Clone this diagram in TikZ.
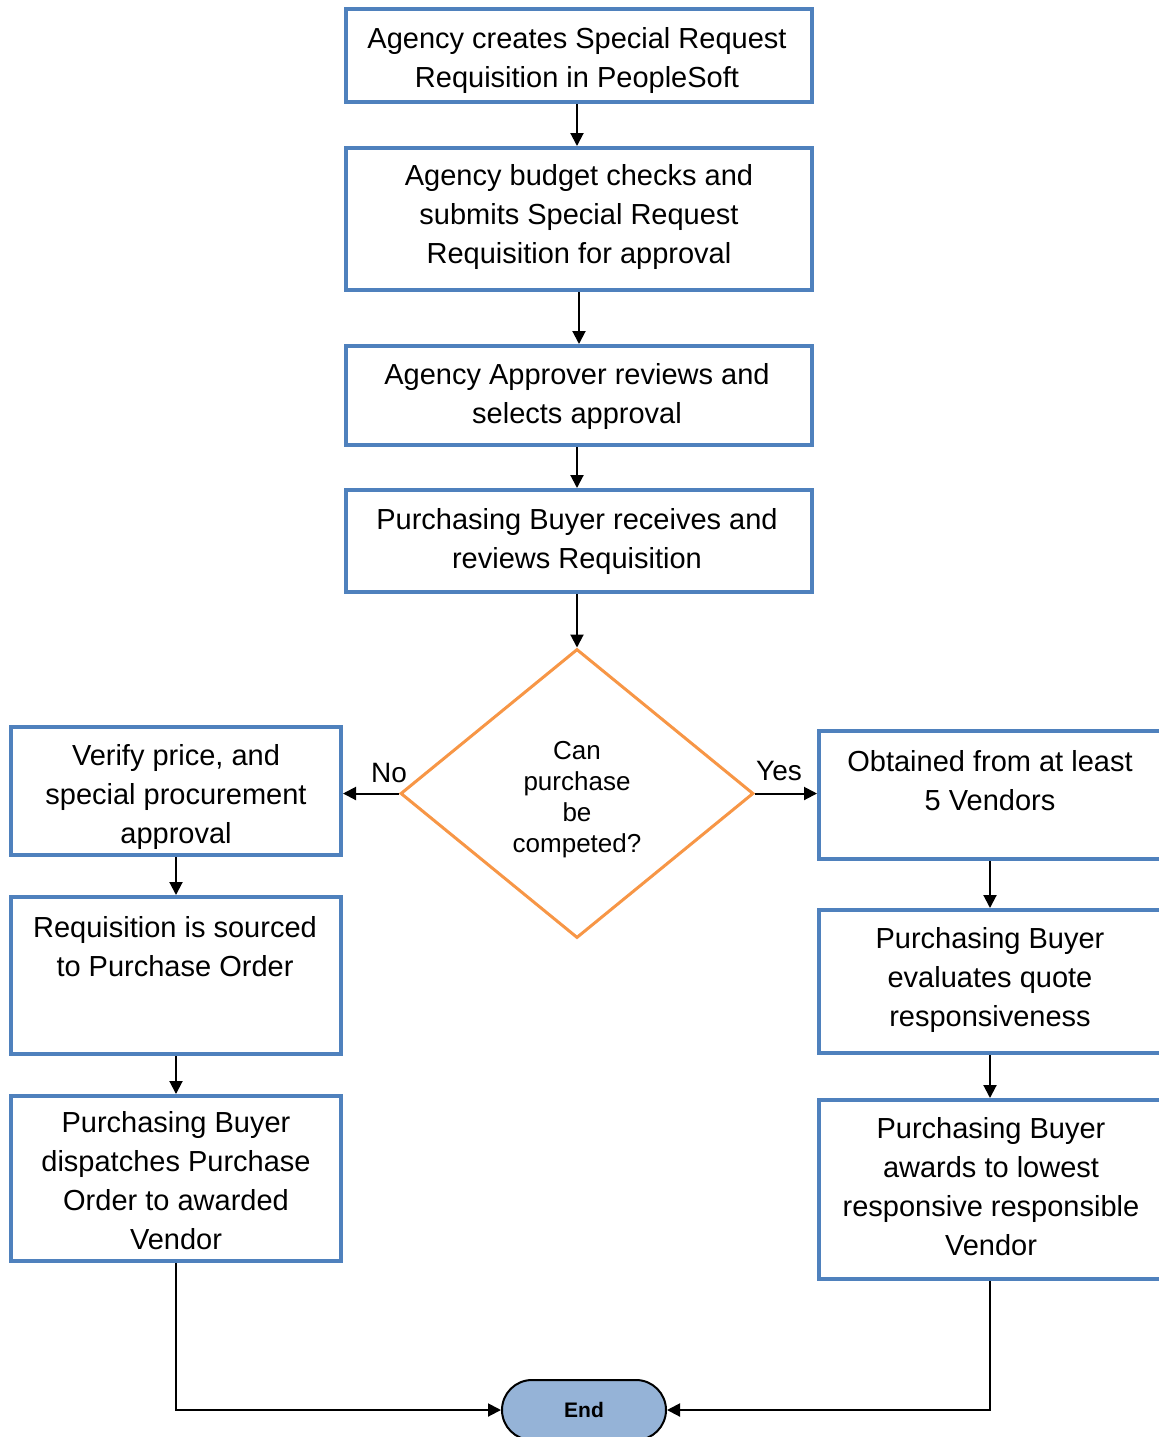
\documentclass[tikz,border=0pt]{standalone}
\usepackage{fontspec}
\setmainfont{Liberation Sans}
\usetikzlibrary{shapes.geometric,shapes.misc,arrows.meta}
\definecolor{boxblue}{HTML}{4F81BD}
\definecolor{dorange}{HTML}{F79646}
\definecolor{endfill}{HTML}{95B3D7}
\tikzset{
  procbox/.style={draw=boxblue, line width=2pt, rectangle, inner sep=0pt, fill=white},
  boxtext/.style={align=center, inner sep=0pt, font=\fontsize{14.5pt}{19.5pt}\selectfont},
  arr/.style={line width=1pt, -{Triangle[length=6.5pt,width=6.5pt]}},
  lbl/.style={inner sep=0pt, font=\fontsize{14pt}{17pt}\selectfont},
}
\begin{document}
\begin{tikzpicture}[x=0.5pt,y=-0.5pt]
\useasboundingbox (0,0) rectangle (1159,1437);
\clip (0,0) rectangle (1159,1437);
% central column
\node[procbox, minimum width=233pt, minimum height=46.5pt] (B1) at (579,55.5) {};
\node[boxtext] (T1) at (577,60) {Agency creates Special Request\\Requisition in PeopleSoft};
\node[procbox, minimum width=233pt, minimum height=71pt] (B2) at (579,219) {};
\node[boxtext] (T2) at (579,217) {Agency budget checks and\\submits Special Request\\Requisition for approval};
\node[procbox, minimum width=233pt, minimum height=49.5pt] (B3) at (579,395.5) {};
\node[boxtext] (T3) at (577,396.5) {Agency Approver reviews and\\selects approval};
\node[procbox, minimum width=233pt, minimum height=51pt] (B4) at (579,541) {};
\node[boxtext] (T4) at (577,541) {Purchasing Buyer receives and\\reviews Requisition};
% decision
\node[draw=dorange, line width=1.5pt, diamond, inner sep=0pt, minimum width=176.5pt, minimum height=144.5pt] (D) at (577,793.5) {};
\node[align=center, inner sep=0pt, font=\fontsize{13pt}{15.5pt}\selectfont] (DT) at (577,800) {Can\\purchase\\be\\competed?};
% left column
\node[procbox, minimum width=165pt, minimum height=64pt] (L1) at (176,791) {};
\node[boxtext] (LT1) at (176,796.5) {Verify price, and\\special procurement\\approval};
\node[procbox, minimum width=165pt, minimum height=78.5pt] (L2) at (176,975.5) {};
\node[boxtext] (LT2) at (175,947) {Requisition is sourced\\to Purchase Order};
\node[procbox, minimum width=165pt, minimum height=82.5pt] (L3) at (176,1178.5) {};
\node[boxtext] (LT3) at (176,1181) {Purchasing Buyer\\dispatches Purchase\\Order to awarded\\Vendor};
% right column
\node[procbox, minimum width=171pt, minimum height=64pt] (R1) at (990,795) {};
\node[boxtext] (RT1) at (990,780.5) {Obtained from at least\\5 Vendors};
\node[procbox, minimum width=171pt, minimum height=71.5pt] (R2) at (990,981.5) {};
\node[boxtext] (RT2) at (990,980) {Purchasing Buyer\\evaluates quote\\responsiveness};
\node[procbox, minimum width=171pt, minimum height=89.5pt] (R3) at (990,1189.5) {};
\node[boxtext] (RT3) at (991,1187) {Purchasing Buyer\\awards to lowest\\responsive responsible\\Vendor};
% end
\node[draw=black, line width=1pt, fill=endfill, rounded rectangle, inner sep=0pt, minimum width=82pt, minimum height=30pt, font=\fontsize{10.5pt}{12pt}\selectfont\bfseries] (E) at (584,1410) {End};
% labels
\node[lbl] (No) at (389,773) {No};
\node[lbl] (Yes) at (779,771) {Yes};
% connectors
\draw[arr] (B1.south -| T1) -- (B2.north -| T1);
\draw[arr] (B2.south) -- (B3.north);
\draw[arr] (B3.south -| T3) -- (B4.north -| T3);
\draw[arr] (B4.south -| D.north) -- (D.north);
\draw[arr] (D.west) -- (D.west -| L1.east);
\draw[arr] (D.east) -- (D.east -| R1.west);
\draw[arr] (L1.south) -- (L2.north);
\draw[arr] (L2.south) -- (L3.north);
\draw[arr] (R1.south) -- (R2.north);
\draw[arr] (R2.south) -- (R3.north);
\draw[arr] (L3.south) |- (E.west);
\draw[arr] (R3.south) |- (E.east);
\end{tikzpicture}
\end{document}
